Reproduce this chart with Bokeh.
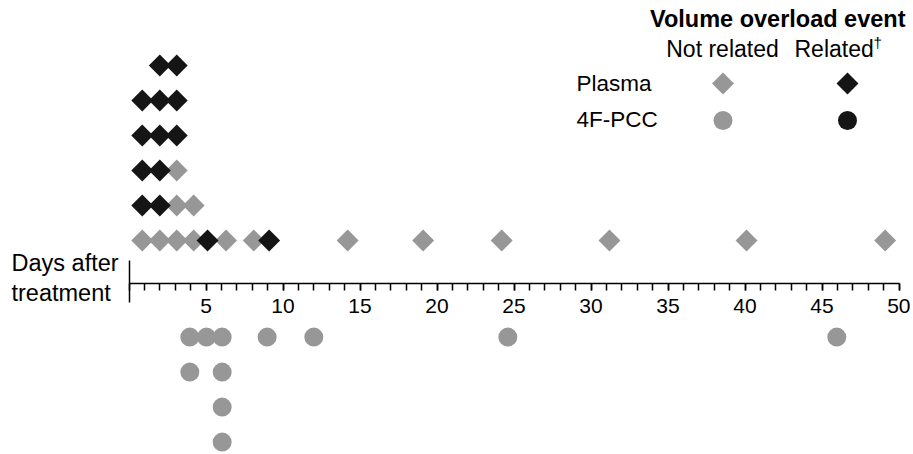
from bokeh.plotting import figure
from bokeh.models import Range1d, Label, FixedTicker
from bokeh.embed import file_html
from bokeh.resources import INLINE
import math

# ---------------- data ----------------
# Plasma (diamonds): day, stack level, related flag (1 = related)
plasma_day = [0.86, 2.0, 3.1, 4.2, 5.1, 6.3, 8.1, 9.1, 14.2, 19.1, 24.2, 31.2, 40.1, 49.1,
              0.86, 2.0, 3.1, 4.2,
              0.86, 2.0, 3.1,
              0.86, 2.0, 3.1,
              0.86, 2.0, 3.1,
              2.0, 3.1]
plasma_level = [1] * 14 + [2] * 4 + [3] * 3 + [4] * 3 + [5] * 3 + [6] * 2
plasma_related = [0, 0, 0, 0, 1, 0, 0, 1, 0, 0, 0, 0, 0, 0,
                  1, 1, 0, 0,
                  1, 1, 0,
                  1, 1, 1,
                  1, 1, 1,
                  1, 1]

# 4F-PCC (circles): day, stack level, related flag
pcc_day = [3.95, 5.03, 6.05, 8.97, 12.0, 24.6, 45.96,
           3.95, 6.05,
           6.05,
           6.05]
pcc_level = [1] * 7 + [2] * 2 + [3] + [4]
pcc_related = [0] * 11

x_ticks_major = [5, 10, 15, 20, 25, 30, 35, 40, 45, 50]
x_ticks_minor = list(range(0, 51))

legend_title = "Volume overload event"
legend_cols = ["Not related", "Related"]
legend_mark = "\u2020"
legend_rows = ["Plasma", "4F-PCC"]
axis_title = ["Days after", "treatment"]

# ---------------- layout helpers ----------------
W, H = 910, 452
PAGE = 0
X0_PAGE, PX_PER_DAY = 128.5, 15.4
Y0_PAGE, PX_PER_LEVEL = 275.0, 35.0
PCC_GAP = 0.76  # circles start below the axis


def dx(px):
    return (px - X0_PAGE) / PX_PER_DAY


def dy(py):
    return (Y0_PAGE - py) / PX_PER_LEVEL


GRAY = "#979797"
BLACK = "#151515"
FONT = "Liberation Sans"

p = figure(width=W, height=H, output_backend="svg", toolbar_location=None,
           x_range=Range1d(dx(PAGE), dx(PAGE + W)),
           y_range=Range1d(dy(PAGE + H), dy(PAGE)),
           min_border=0, outline_line_color=None)
p.xgrid.visible = False
p.ygrid.visible = False

# x axis placed through the middle
ax = p.xaxis[0]
ax.fixed_location = dy(283)
ax.bounds = (0, 50)
ax.ticker = FixedTicker(ticks=x_ticks_major, minor_ticks=x_ticks_minor)
ax.axis_line_width = 1.5
ax.axis_line_color = "black"
ax.major_tick_in = 0
ax.major_tick_out = 7
ax.minor_tick_in = 0
ax.minor_tick_out = 7
ax.major_tick_line_width = 1.5
ax.minor_tick_line_width = 1.5
ax.major_label_text_font = FONT
ax.major_label_text_font_size = "21px"
ax.major_label_text_color = "black"
ax.major_label_standoff = 8

# short vertical stub at day 0
ay = p.yaxis[0]
ay.fixed_location = 0
ay.bounds = (dy(302), dy(260))
ay.ticker = FixedTicker(ticks=[], minor_ticks=[])
ay.axis_line_width = 1.5
ay.axis_line_color = "black"
ay.major_tick_line_color = None
ay.minor_tick_line_color = None

# ---------------- marks ----------------
def split(days, levels, rel, flag):
    return ([d for d, r in zip(days, rel) if r == flag],
            [l for l, r in zip(levels, rel) if r == flag])

for flag, col in [(0, GRAY), (1, BLACK)]:
    xs, ls = split(plasma_day, plasma_level, plasma_related, flag)
    p.scatter(x=xs, y=ls, marker="square", angle=math.pi / 4, size=15.5,
              fill_color=col, line_color=None)
    xs, ls = split(pcc_day, pcc_level, pcc_related, flag)
    p.scatter(x=xs, y=[-l - PCC_GAP for l in ls], marker="circle", size=19,
              fill_color=col, line_color=None)

# ---------------- legend ----------------
p.add_layout(Label(x=dx(905), y=dy(18), text=legend_title, text_align="right",
                   text_baseline="middle", text_font=FONT, text_font_size="23.5px",
                   text_font_style="bold", text_color="black"))
p.add_layout(Label(x=dx(722), y=dy(48), text=legend_cols[0], text_align="center",
                   text_baseline="middle", text_font=FONT, text_font_size="23px",
                   text_color="black"))
p.add_layout(Label(x=dx(794), y=dy(48), text=legend_cols[1], text_align="left",
                   text_baseline="middle", text_font=FONT, text_font_size="23px",
                   text_color="black"))
p.add_layout(Label(x=dx(873), y=dy(42), text=legend_mark, text_align="left",
                   text_baseline="middle", text_font=FONT, text_font_size="15px",
                   text_color="black"))
for ry, t in zip([83, 119], legend_rows):
    p.add_layout(Label(x=dx(576), y=dy(ry), text=t, text_align="left",
                       text_baseline="middle", text_font=FONT, text_font_size="22.5px",
                       text_color="black"))
p.scatter(x=[dx(722.5)], y=[dy(83)], marker="square", angle=math.pi / 4, size=15.5,
          fill_color=GRAY, line_color=None)
p.scatter(x=[dx(847)], y=[dy(83)], marker="square", angle=math.pi / 4, size=15.5,
          fill_color=BLACK, line_color=None)
p.scatter(x=[dx(722.5)], y=[dy(120)], marker="circle", size=19,
          fill_color=GRAY, line_color=None)
p.scatter(x=[dx(847)], y=[dy(120)], marker="circle", size=19,
          fill_color=BLACK, line_color=None)

# axis title
for ty, t in zip([262, 292], axis_title):
    p.add_layout(Label(x=dx(11), y=dy(ty), text=t, text_align="left",
                       text_baseline="middle", text_font=FONT, text_font_size="23.5px",
                       text_color="black"))

open("out.html", "w").write(file_html(p, INLINE))
